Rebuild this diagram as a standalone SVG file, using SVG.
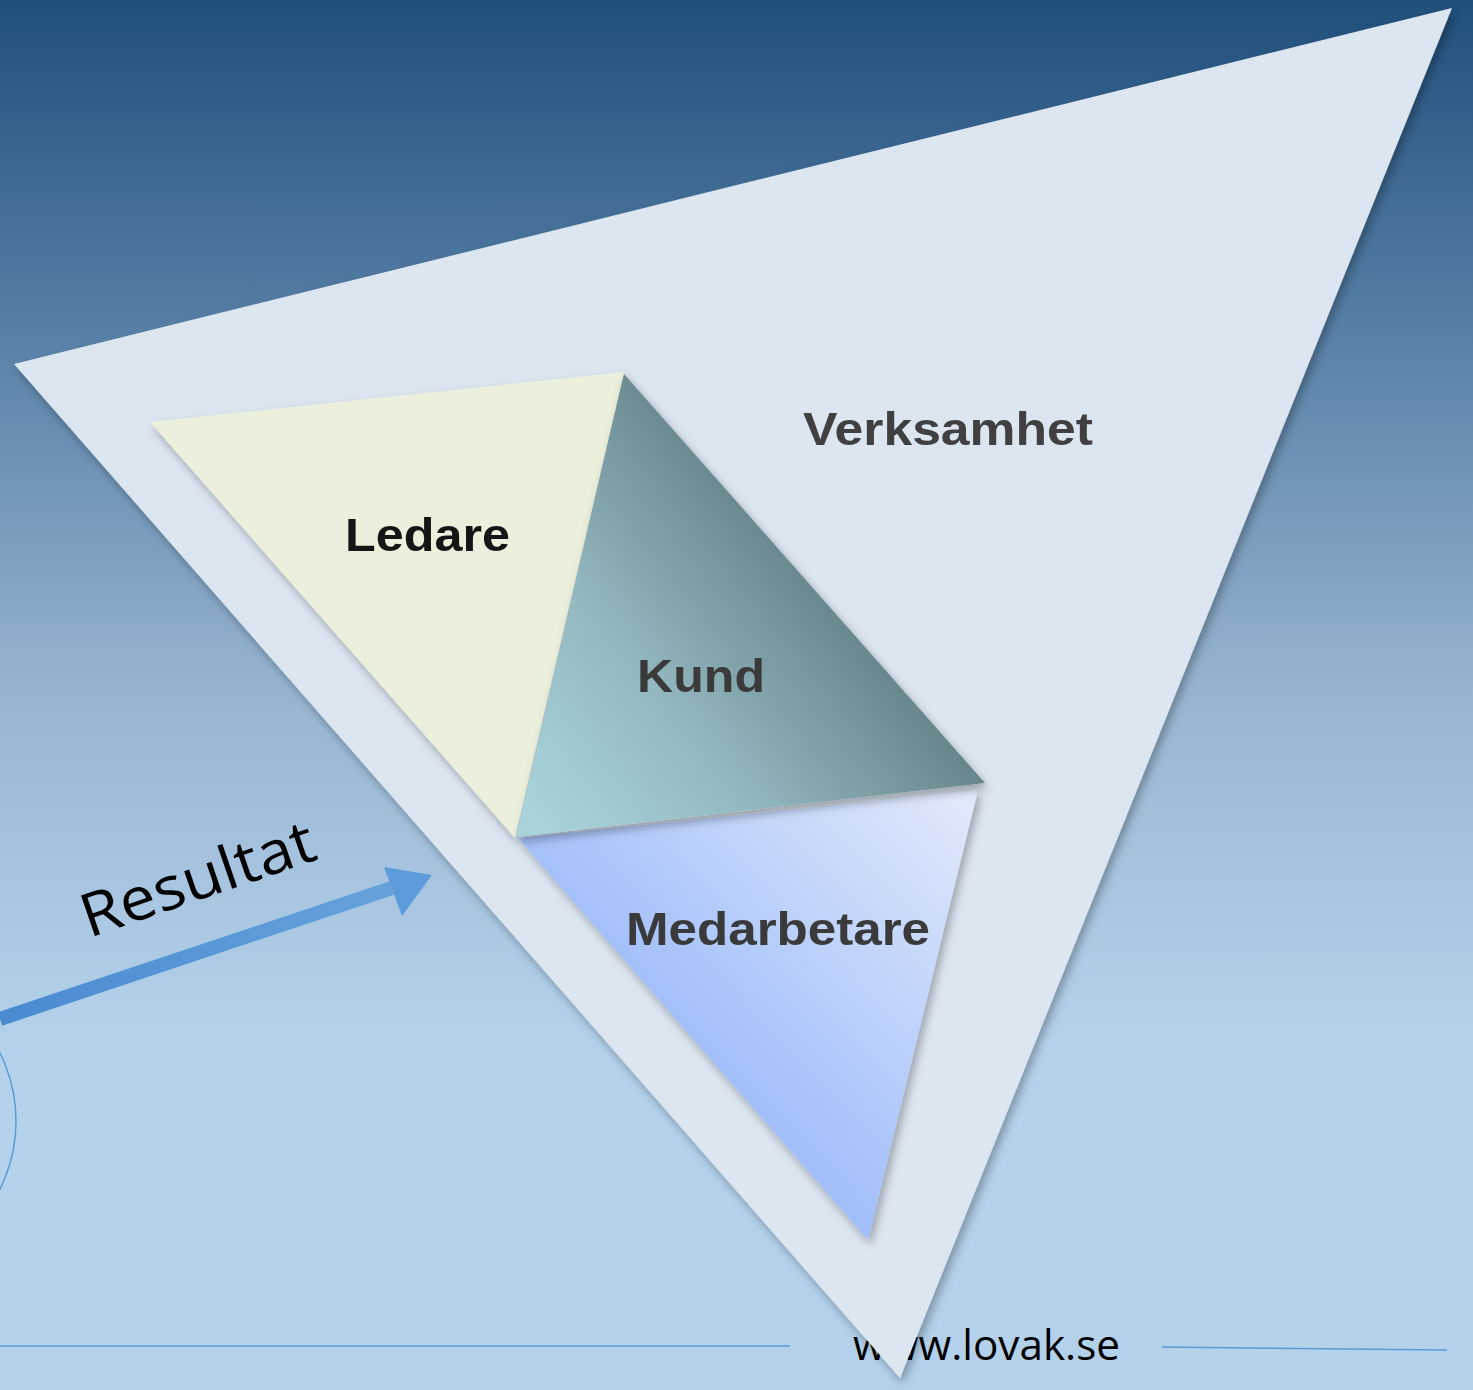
<svg xmlns="http://www.w3.org/2000/svg" width="1473" height="1390" viewBox="0 0 1473 1390">
<defs>
<linearGradient id="bg" x1="0" y1="0" x2="0" y2="1390" gradientUnits="userSpaceOnUse">
<stop offset="0" stop-color="#204f7b"/>
<stop offset="0.25" stop-color="#5a82a8"/>
<stop offset="0.5" stop-color="#97b5d2"/>
<stop offset="0.75" stop-color="#b4d2ec"/>
<stop offset="1" stop-color="#b3d1eb"/>
</linearGradient>
<linearGradient id="kund" x1="540" y1="820" x2="860" y2="560" gradientUnits="userSpaceOnUse">
<stop offset="0" stop-color="#a8d3db"/>
<stop offset="0.4" stop-color="#94b9c0"/>
<stop offset="1" stop-color="#5e7c80"/>
</linearGradient>
<linearGradient id="med" x1="700" y1="1050" x2="960" y2="800" gradientUnits="userSpaceOnUse">
<stop offset="0" stop-color="#a2bffa"/>
<stop offset="1" stop-color="#dfe8fb"/>
</linearGradient>
<linearGradient id="arr" x1="0" y1="1020" x2="432" y2="875" gradientUnits="userSpaceOnUse">
<stop offset="0" stop-color="#4a8ad0"/>
<stop offset="1" stop-color="#6aa4dd"/>
</linearGradient>
<filter id="sh" x="-10%" y="-10%" width="130%" height="130%">
<feDropShadow dx="3" dy="5" stdDeviation="5" flood-color="#000" flood-opacity="0.3"/>
</filter>
<style>
.lbl{font-family:"Liberation Sans",Arial,sans-serif;font-weight:bold;}
.rule{stroke:#5b9bd5;stroke-width:1.5;fill:none;}
</style>
</defs>
<rect width="1473" height="1390" fill="url(#bg)"/>
<circle class="rule" cx="-137" cy="1121" r="153"/>
<line class="rule" x1="0" y1="1346" x2="790" y2="1346"/>
<line class="rule" x1="1162" y1="1347" x2="1447" y2="1350"/>
<text x="853" y="1360" font-family="'Open Sans','Liberation Sans',sans-serif" font-size="42" fill="#000" textLength="267" lengthAdjust="spacingAndGlyphs">www.lovak.se</text>
<g id="connectors">
<path d="M0 1019 L392 888" stroke="url(#arr)" stroke-width="14" fill="none"/>
<path d="M432 875 L384 867 L402 916 Z" fill="#5e9bdb"/>
</g>
<text x="0" y="0" transform="translate(89 938) rotate(-19)" font-family="'Open Sans','Liberation Sans',sans-serif" font-size="60" fill="#000" textLength="244" lengthAdjust="spacingAndGlyphs">Resultat</text>
<g id="verksamhet">
<polygon points="14,364 1452,8 900,1378" fill="#dce6f1" filter="url(#sh)"/>
<text class="lbl" x="803" y="445" font-size="46" fill="#404040" textLength="290" lengthAdjust="spacingAndGlyphs">Verksamhet</text>
</g>
<g id="ledare">
<polygon points="150,422 624,372 515,838" fill="#ebf0dc" filter="url(#sh)"/>
<text class="lbl" x="345" y="551" font-size="46" fill="#151515" textLength="165" lengthAdjust="spacingAndGlyphs">Ledare</text>
</g>
<g id="medarbetare">
<polygon points="518,838 978,790 868,1240" fill="url(#med)" filter="url(#sh)"/>
<text class="lbl" x="626" y="945" font-size="46" fill="#3a3a3a" textLength="304" lengthAdjust="spacingAndGlyphs">Medarbetare</text>
</g>
<g id="kund">
<polygon points="624,374 985,783 516,837" fill="url(#kund)" filter="url(#sh)"/>
<text class="lbl" x="637" y="692" font-size="46" fill="#3a3a3a" textLength="128" lengthAdjust="spacingAndGlyphs">Kund</text>
</g>
</svg>
